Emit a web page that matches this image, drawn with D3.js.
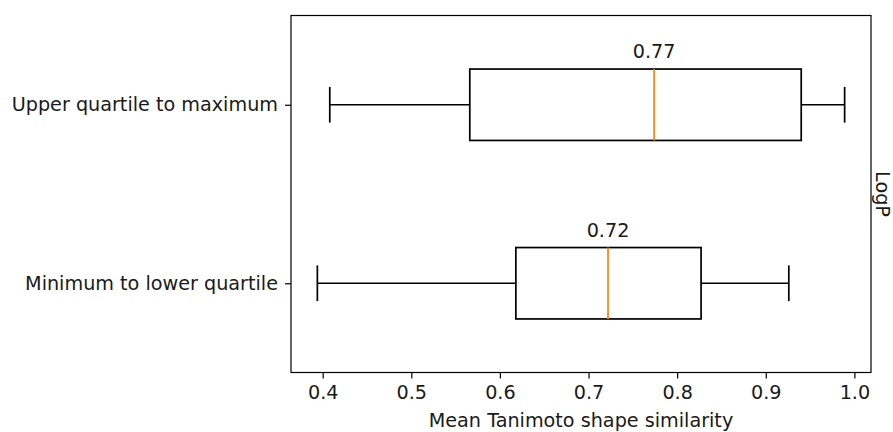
<!DOCTYPE html>
<html>
<head>
<meta charset="utf-8">
<script src="https://cdn.jsdelivr.net/npm/d3@7"></script>
<style>
  html, body { margin: 0; padding: 0; background: #fff; }
  svg { display: block; font-family: "DejaVu Sans", sans-serif; }
</style>
</head>
<body>
<svg id="chart" width="893" height="432"></svg>
<script>
// ---- data ----
const categories = ["Minimum to lower quartile", "Upper quartile to maximum"];
const whiskerLow  = [0.394, 0.408];
const q1Values    = [0.618, 0.566];
const medians     = [0.722, 0.774];
const q3Values    = [0.827, 0.940];
const whiskerHigh = [0.926, 0.989];
const medianLabels = ["0.72", "0.77"];
const xTicks = [0.4, 0.5, 0.6, 0.7, 0.8, 0.9, 1.0];
const xLabel = "Mean Tanimoto shape similarity";
const rightLabel = "LogP";

(function () {
// ---- layout ----
const svg = d3.select("#chart");
const pLeft = 291, pRight = 871, pTop = 15.5, pBottom = 372.5;
const fs = 19.2;

const dMin = d3.min(whiskerLow), dMax = d3.max(whiskerHigh);
const pad = (dMax - dMin) * 0.05;
const x = d3.scaleLinear().domain([dMin - pad, dMax + pad]).range([pLeft, pRight]);
const y = d3.scaleLinear().domain([0.5, categories.length + 0.5]).range([pBottom, pTop]);

const boxW = 0.4, capW = 0.2;

const g = svg.append("g");

// x axis
const xAxis = d3.axisBottom(x).tickValues(xTicks).tickFormat(d3.format(".1f")).tickSize(6).tickPadding(7);
const gx = svg.append("g").attr("transform", `translate(0,${pBottom})`).call(xAxis);
gx.select(".domain").remove();
gx.selectAll("line").attr("stroke", "#000").attr("stroke-width", 1.2);
gx.selectAll("text").attr("font-size", fs).attr("fill", "#1a1a1a").attr("font-family", "DejaVu Sans");

// y axis
const yAxis = d3.axisLeft(y).tickValues(d3.range(1, categories.length + 1))
  .tickFormat((d) => categories[d - 1]).tickSize(6).tickPadding(7);
const gy = svg.append("g").attr("transform", `translate(${pLeft},0)`).call(yAxis);
gy.select(".domain").remove();
gy.selectAll("line").attr("stroke", "#000").attr("stroke-width", 1.2);
gy.selectAll("text").attr("font-size", fs).attr("fill", "#1a1a1a").attr("font-family", "DejaVu Sans");

// boxes
categories.forEach((c, i) => {
  const p = i + 1;
  const yc = y(p);
  const yT = y(p + boxW / 2), yB = y(p - boxW / 2);
  const cT = y(p + capW / 2), cB = y(p - capW / 2);
  const bg = g.append("g").attr("stroke", "#000").attr("stroke-width", 1.7).attr("fill", "none");
  bg.append("line").attr("x1", x(whiskerLow[i])).attr("x2", x(q1Values[i])).attr("y1", yc).attr("y2", yc);
  bg.append("line").attr("x1", x(q3Values[i])).attr("x2", x(whiskerHigh[i])).attr("y1", yc).attr("y2", yc);
  bg.append("line").attr("x1", x(whiskerLow[i])).attr("x2", x(whiskerLow[i])).attr("y1", cT).attr("y2", cB);
  bg.append("line").attr("x1", x(whiskerHigh[i])).attr("x2", x(whiskerHigh[i])).attr("y1", cT).attr("y2", cB);
  bg.append("rect").attr("x", x(q1Values[i])).attr("y", yT)
    .attr("width", x(q3Values[i]) - x(q1Values[i])).attr("height", yB - yT);
  g.append("line").attr("x1", x(medians[i])).attr("x2", x(medians[i])).attr("y1", yT).attr("y2", yB)
    .attr("stroke", "#ff7f0e").attr("stroke-width", 1.7);
  g.append("text").attr("x", x(medians[i])).attr("y", yT - 11)
    .attr("text-anchor", "middle").attr("font-size", fs).attr("fill", "#1a1a1a")
    .text(medianLabels[i]);
});

// frame
svg.append("rect").attr("x", pLeft).attr("y", pTop).attr("width", pRight - pLeft).attr("height", pBottom - pTop)
  .attr("fill", "none").attr("stroke", "#000").attr("stroke-width", 1.2);

// x label
svg.append("text").attr("x", (pLeft + pRight) / 2).attr("y", 427)
  .attr("text-anchor", "middle").attr("font-size", fs).attr("fill", "#1a1a1a").text(xLabel);

// right label
svg.append("text").attr("transform", `translate(${pRight + 5},${(pTop + pBottom) / 2}) rotate(90)`)
  .attr("text-anchor", "middle").attr("font-size", fs).attr("fill", "#1a1a1a").text(rightLabel);
})();
</script>
</body>
</html>
